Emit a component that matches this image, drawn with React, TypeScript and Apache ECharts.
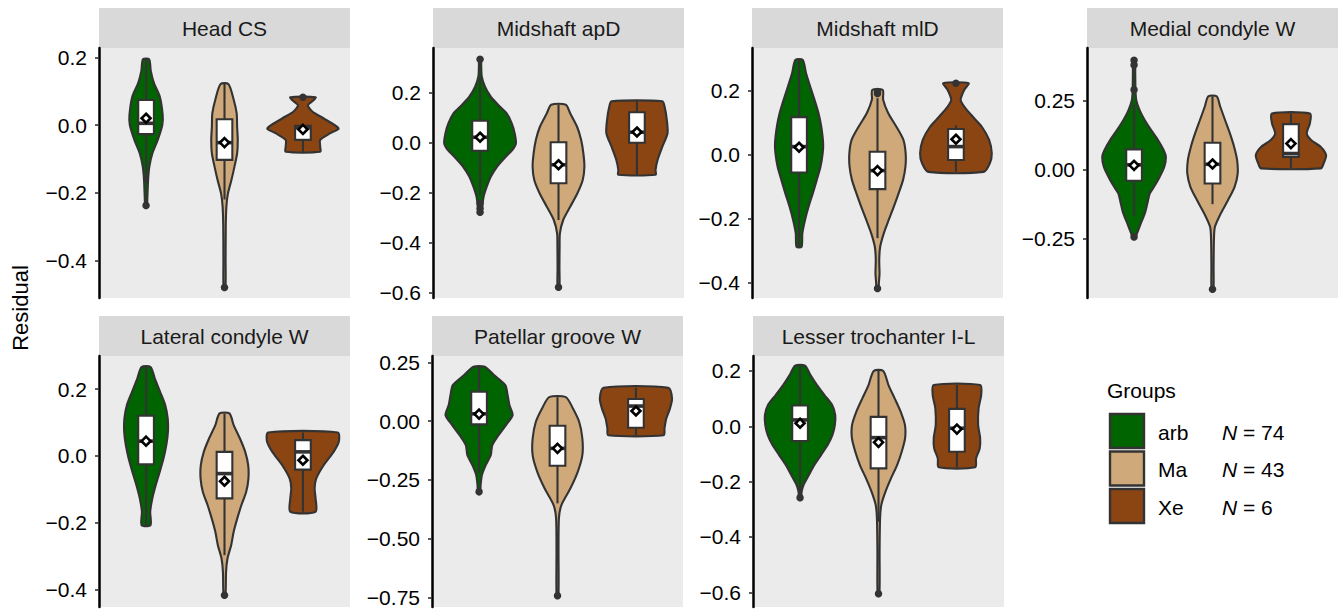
import React, { useEffect, useRef } from 'react';
import * as echarts from 'echarts';

// ---------- data ----------
const panelNames = ['Head CS', 'Midshaft apD', 'Midshaft mlD', 'Medial condyle W', 'Lateral condyle W', 'Patellar groove W', 'Lesser trochanter I-L'];
const groupNames = ['arb', 'Ma', 'Xe'];
const groupN = [74, 43, 6];
const yAxisTitle = 'Residual';
const legendTitle = 'Groups';

const yMin = [-0.511, -0.623, -0.449, -0.467, -0.452, -0.791, -0.653];
const yMax = [0.2275, 0.377, 0.332, 0.4415, 0.2987, 0.277, 0.254];
const yTicks = [
  [-0.4, -0.2, 0, 0.2],
  [-0.6, -0.4, -0.2, 0, 0.2],
  [-0.4, -0.2, 0, 0.2],
  [-0.25, 0, 0.25],
  [-0.4, -0.2, 0, 0.2],
  [-0.75, -0.5, -0.25, 0, 0.25],
  [-0.6, -0.4, -0.2, 0, 0.2],
];
const tickDecimals = [1, 1, 1, 2, 1, 2, 1];

// violin profiles: [residual, half-width in group units], top to bottom; order arb, Ma, Xe
const violinHeadCS = [
  [[0.194, 0.04], [0.16, 0.06], [0.123, 0.102], [0.084, 0.175], [0.029, 0.212], [0.0, 0.207], [-0.044, 0.149], [-0.084, 0.08], [-0.123, 0.042], [-0.162, 0.026], [-0.22, 0.016], [-0.238, 0.012]],
  [[0.121, 0.051], [0.074, 0.118], [0.035, 0.155], [-0.005, 0.161], [-0.044, 0.169], [-0.084, 0.161], [-0.123, 0.127], [-0.162, 0.089], [-0.202, 0.044], [-0.241, 0.024], [-0.3, 0.016], [-0.4, 0.014], [-0.48, 0.012]],
  [[0.082, 0.161], [0.07, 0.12], [0.058, 0.063], [0.039, 0.123], [0.02, 0.26], [-0.01, 0.455], [-0.024, 0.349], [-0.044, 0.22], [-0.064, 0.22], [-0.079, 0.22]],
];
const violinApD = [
  [[0.332, 0.012], [0.3, 0.015], [0.262, 0.022], [0.222, 0.063], [0.182, 0.137], [0.142, 0.254], [0.116, 0.339], [0.076, 0.403], [0.036, 0.441], [-0.004, 0.457], [-0.03, 0.413], [-0.058, 0.328], [-0.098, 0.216], [-0.138, 0.136], [-0.178, 0.085], [-0.218, 0.045], [-0.258, 0.028], [-0.284, 0.016]],
  [[0.15, 0.093], [0.116, 0.149], [0.062, 0.237], [0.01, 0.288], [-0.044, 0.317], [-0.098, 0.33], [-0.151, 0.309], [-0.204, 0.241], [-0.258, 0.149], [-0.311, 0.06], [-0.364, 0.018], [-0.417, 0.014], [-0.5, 0.012], [-0.58, 0.012]],
  [[0.164, 0.324], [0.142, 0.353], [0.089, 0.381], [0.036, 0.39], [-0.018, 0.324], [-0.071, 0.263], [-0.111, 0.237], [-0.13, 0.237]],
];
const violinMlD = [
  [[0.295, 0.047], [0.253, 0.089], [0.211, 0.143], [0.17, 0.197], [0.128, 0.248], [0.086, 0.283], [0.034, 0.307], [0.003, 0.301], [-0.039, 0.273], [-0.08, 0.226], [-0.122, 0.175], [-0.164, 0.121], [-0.205, 0.076], [-0.247, 0.042], [-0.289, 0.032]],
  [[0.201, 0.067], [0.17, 0.072], [0.128, 0.137], [0.086, 0.241], [0.045, 0.33], [0.003, 0.359], [-0.039, 0.356], [-0.08, 0.326], [-0.122, 0.269], [-0.164, 0.207], [-0.205, 0.143], [-0.247, 0.08], [-0.289, 0.034], [-0.33, 0.022], [-0.372, 0.026], [-0.4, 0.018], [-0.419, 0.012]],
  [[0.222, 0.161], [0.201, 0.105], [0.17, 0.06], [0.149, 0.105], [0.118, 0.212], [0.086, 0.33], [0.045, 0.423], [0.003, 0.457], [-0.028, 0.432], [-0.055, 0.353]],
];
const violinMedial = [
  [[0.397, 0.012], [0.35, 0.015], [0.29, 0.018], [0.252, 0.028], [0.215, 0.072], [0.179, 0.137], [0.143, 0.218], [0.106, 0.307], [0.07, 0.378], [0.046, 0.406], [0.009, 0.385], [-0.027, 0.326], [-0.063, 0.254], [-0.087, 0.201], [-0.124, 0.169], [-0.16, 0.137], [-0.196, 0.086], [-0.233, 0.036], [-0.245, 0.02]],
  [[0.266, 0.053], [0.228, 0.099], [0.179, 0.161], [0.131, 0.222], [0.082, 0.276], [0.034, 0.314], [-0.015, 0.321], [-0.063, 0.282], [-0.112, 0.197], [-0.16, 0.105], [-0.209, 0.03], [-0.257, 0.018], [-0.35, 0.014], [-0.435, 0.012]],
  [[0.203, 0.244], [0.167, 0.241], [0.131, 0.201], [0.106, 0.26], [0.082, 0.381], [0.052, 0.448], [0.022, 0.417], [0.004, 0.381]],
];
const violinLateral = [
  [[0.266, 0.057], [0.231, 0.112], [0.191, 0.18], [0.152, 0.244], [0.112, 0.276], [0.072, 0.279], [0.032, 0.258], [-0.008, 0.222], [-0.048, 0.174], [-0.088, 0.123], [-0.127, 0.08], [-0.167, 0.053], [-0.207, 0.057]],
  [[0.127, 0.063], [0.092, 0.117], [0.052, 0.197], [0.012, 0.264], [-0.028, 0.302], [-0.068, 0.305], [-0.108, 0.276], [-0.147, 0.216], [-0.187, 0.163], [-0.227, 0.117], [-0.267, 0.085], [-0.307, 0.038], [-0.347, 0.02], [-0.417, 0.012]],
  [[0.07, 0.444], [0.042, 0.457], [0.012, 0.391], [-0.028, 0.264], [-0.068, 0.169], [-0.097, 0.149], [-0.127, 0.161], [-0.167, 0.161]],
];
const violinPatellar = [
  [[0.231, 0.072], [0.196, 0.19], [0.153, 0.334], [0.111, 0.364], [0.068, 0.387], [0.026, 0.428], [-0.017, 0.343], [-0.06, 0.248], [-0.102, 0.169], [-0.145, 0.149], [-0.187, 0.085], [-0.23, 0.036], [-0.272, 0.02], [-0.301, 0.014]],
  [[0.102, 0.105], [0.054, 0.197], [-0.003, 0.276], [-0.074, 0.317], [-0.145, 0.317], [-0.216, 0.258], [-0.286, 0.165], [-0.357, 0.05], [-0.414, 0.018], [-0.55, 0.013], [-0.743, 0.012]],
  [[0.142, 0.413], [0.096, 0.46], [0.054, 0.434], [0.011, 0.387], [-0.031, 0.364], [-0.06, 0.353]],
];
const violinLesser = [
  [[0.219, 0.063], [0.185, 0.133], [0.149, 0.216], [0.113, 0.311], [0.077, 0.409], [0.041, 0.448], [0.005, 0.444], [-0.031, 0.413], [-0.067, 0.353], [-0.103, 0.269], [-0.139, 0.184], [-0.176, 0.112], [-0.212, 0.044], [-0.236, 0.02], [-0.258, 0.014]],
  [[0.2, 0.061], [0.149, 0.127], [0.101, 0.206], [0.053, 0.282], [0.005, 0.337], [-0.043, 0.339], [-0.092, 0.296], [-0.14, 0.237], [-0.188, 0.159], [-0.236, 0.089], [-0.284, 0.036], [-0.333, 0.02], [-0.45, 0.014], [-0.605, 0.012]],
  [[0.149, 0.296], [0.113, 0.309], [0.065, 0.276], [0.005, 0.27], [-0.043, 0.296], [-0.08, 0.29], [-0.116, 0.244], [-0.148, 0.232]],
];

// box stats: [lower whisker, Q1, median, Q3, upper whisker]
const boxHeadCS = [[-0.17, -0.027, 0.005, 0.074, 0.194], [-0.22, -0.103, -0.052, 0.017, 0.121], [-0.079, -0.044, -0.008, -0.002, -0.002]];
const boxApD = [[-0.21, -0.034, 0.02, 0.086, 0.26], [-0.311, -0.164, -0.09, 0.0, 0.15], [-0.13, -0.002, 0.04, 0.12, 0.164]];
const boxMlD = [[-0.289, -0.057, 0.024, 0.116, 0.295], [-0.262, -0.109, -0.051, 0.008, 0.175], [-0.055, -0.018, 0.024, 0.079, 0.09]];
const boxMedial = [[-0.17, -0.041, 0.017, 0.073, 0.24], [-0.126, -0.051, 0.019, 0.097, 0.266], [0.004, 0.046, 0.058, 0.165, 0.203]];
const boxLateral = [[-0.207, -0.025, 0.044, 0.12, 0.266], [-0.297, -0.127, -0.053, 0.012, 0.127], [-0.167, -0.041, 0.012, 0.047, 0.07]];
const boxPatellar = [[-0.22, -0.014, 0.031, 0.125, 0.231], [-0.35, -0.19, -0.116, -0.02, 0.102], [-0.06, -0.028, 0.064, 0.094, 0.142]];
const boxLesser = [[-0.245, -0.053, 0.023, 0.075, 0.219], [-0.345, -0.152, -0.041, 0.034, 0.2], [-0.148, -0.092, -0.007, 0.063, 0.149]];

// group means
const meanHeadCS = [0.02, -0.052, -0.013];
const meanApD = [0.02, -0.09, 0.041];
const meanMlD = [0.022, -0.051, 0.047];
const meanMedial = [0.015, 0.02, 0.094];
const meanLateral = [0.044, -0.076, -0.013];
const meanPatellar = [0.03, -0.116, 0.043];
const meanLesser = [0.011, -0.058, -0.01];

// outliers: [group (1..3), residual]
const outHeadCS = [[1, -0.238], [2, -0.48], [3, 0.082]];
const outApD = [[1, 0.332], [1, -0.245], [1, -0.265], [1, -0.28], [2, -0.58]];
const outMlD = [[2, 0.19], [2, 0.196], [2, -0.419], [3, 0.222]];
const outMedial = [[1, 0.397], [1, 0.38], [1, 0.29], [1, -0.245], [2, -0.435]];
const outLateral = [[2, -0.417]];
const outPatellar = [[1, -0.301], [2, -0.743]];
const outLesser = [[1, -0.258], [2, -0.605]];

const violins = [violinHeadCS, violinApD, violinMlD, violinMedial, violinLateral, violinPatellar, violinLesser];
const boxes = [boxHeadCS, boxApD, boxMlD, boxMedial, boxLateral, boxPatellar, boxLesser];
const means = [meanHeadCS, meanApD, meanMlD, meanMedial, meanLateral, meanPatellar, meanLesser];
const outliers = [outHeadCS, outApD, outMlD, outMedial, outLateral, outPatellar, outLesser];

// ---------- styles / layout ----------
const groupColors = ['#006400', '#CFA97A', '#8B4513'];
const FONT = '"Liberation Sans", Arial, Helvetica, sans-serif';
const INK = '#333333';
const LW = 2.1;
const panelLefts = [99, 433, 752, 1087, 99, 432, 753];
const panelTops = [48, 48, 48, 48, 356, 356, 356];
const panelHeights = [250, 250, 250, 250, 251, 251, 251];
const PANEL_W = 251;
const STRIP_H = 40;
const BOX_HALF = 0.1;

function fmt(v: number, d: number) {
  const a = Math.abs(v).toFixed(d);
  return (v < -1e-9 ? '\u2212' : '') + a;
}

function buildOption() {
  const grid: any[] = [];
  const xAxis: any[] = [];
  const yAxis: any[] = [];
  const series: any[] = [];
  const graphic: any[] = [];

  panelNames.forEach((name, p) => {
    grid.push({
      left: panelLefts[p], top: panelTops[p], width: PANEL_W, height: panelHeights[p],
      show: true, backgroundColor: '#EBEBEB', borderWidth: 0, containLabel: false,
    });
    xAxis.push({ type: 'value', gridIndex: p, min: 0.4, max: 3.6, show: false, splitLine: { show: false } });
    const dec = tickDecimals[p];
    yAxis.push({
      type: 'value', gridIndex: p, min: yMin[p], max: yMax[p],
      axisLine: { show: true, onZero: false, lineStyle: { color: '#000', width: 2.5 } },
      axisTick: { show: true, length: 4, lineStyle: { color: INK, width: 1.6 }, customValues: yTicks[p] },
      axisLabel: {
        customValues: yTicks[p], color: '#000', fontSize: 21, fontFamily: FONT, margin: 12,
        formatter: (v: number) => fmt(v, dec),
      },
      splitLine: { show: false },
    });

    const prof = violins[p];
    series.push({
      type: 'custom', xAxisIndex: p, yAxisIndex: p, z: 2, silent: true,
      data: groupNames.map((_, g) => [g + 1, 0]),
      encode: { x: 0, y: 1 },
      renderItem: (params: any, api: any) => {
        const g = params.dataIndex;
        const pr = prof[g];
        const cx = g + 1;
        const right = pr.map((pt: number[]) => api.coord([cx + pt[1], pt[0]]));
        const left = pr.slice().reverse().map((pt: number[]) => api.coord([cx - pt[1], pt[0]]));
        return {
          type: 'polygon',
          shape: { points: right.concat(left), smooth: 0.25 },
          style: { fill: groupColors[g], stroke: INK, lineWidth: LW, lineJoin: 'round' },
        };
      },
    });

    series.push({
      type: 'custom', xAxisIndex: p, yAxisIndex: p, z: 3, silent: true,
      data: boxes[p].map((b, g) => [g + 1, ...b]),
      encode: { x: 0, y: [1, 2, 3, 4, 5] },
      renderItem: (params: any, api: any) => {
        const x = api.value(0);
        const lo = api.value(1), q1 = api.value(2), med = api.value(3), q3 = api.value(4), hi = api.value(5);
        const pLo = api.coord([x, lo]);
        const pHi = api.coord([x, hi]);
        const tl = api.coord([x - BOX_HALF, q3]);
        const br = api.coord([x + BOX_HALF, q1]);
        const m1 = api.coord([x - BOX_HALF, med]);
        const m2 = api.coord([x + BOX_HALF, med]);
        return {
          type: 'group',
          children: [
            { type: 'line', shape: { x1: pLo[0], y1: pLo[1], x2: pHi[0], y2: pHi[1] }, style: { stroke: INK, lineWidth: LW } },
            { type: 'rect', shape: { x: tl[0], y: tl[1], width: br[0] - tl[0], height: br[1] - tl[1] }, style: { fill: '#FFFFFF', stroke: INK, lineWidth: LW } },
            { type: 'line', shape: { x1: m1[0], y1: m1[1], x2: m2[0], y2: m2[1] }, style: { stroke: INK, lineWidth: 3.6 } },
          ],
        };
      },
    });

    series.push({
      type: 'scatter', xAxisIndex: p, yAxisIndex: p, z: 4, silent: true,
      symbol: 'circle', symbolSize: 7.5,
      itemStyle: { color: INK, opacity: 1 },
      data: outliers[p],
    });

    series.push({
      type: 'scatter', xAxisIndex: p, yAxisIndex: p, z: 5, silent: true,
      symbol: 'diamond', symbolSize: 9,
      itemStyle: { color: '#FFFFFF', borderColor: '#000000', borderWidth: 2.6, opacity: 1 },
      data: means[p].map((m, g) => [g + 1, m]),
    });

    graphic.push({
      type: 'rect', silent: true,
      shape: { x: panelLefts[p], y: panelTops[p] - STRIP_H, width: PANEL_W, height: STRIP_H },
      style: { fill: '#D9D9D9' },
    });
    graphic.push({
      type: 'text', silent: true,
      x: panelLefts[p] + PANEL_W / 2, y: panelTops[p] - STRIP_H / 2,
      style: { text: name, fill: '#1A1A1A', fontSize: 21, fontFamily: FONT, textAlign: 'center', textVerticalAlign: 'middle' },
    });
  });

  graphic.push({
    type: 'text', silent: true, x: 20, y: 308, rotation: Math.PI / 2,
    style: { text: yAxisTitle, fill: '#000', fontSize: 22, fontFamily: FONT, textAlign: 'center', textVerticalAlign: 'middle' },
  });

  graphic.push({
    type: 'text', silent: true, x: 1107, y: 390,
    style: { text: legendTitle, fill: '#000', fontSize: 21, fontFamily: FONT, textAlign: 'left', textVerticalAlign: 'middle' },
  });
  groupNames.forEach((gname, g) => {
    const top = 413 + g * 37.5;
    graphic.push({
      type: 'rect', silent: true,
      shape: { x: 1110, y: top + 1, width: 34, height: 34 },
      style: { fill: groupColors[g], stroke: INK, lineWidth: 2.4 },
    });
    graphic.push({
      type: 'text', silent: true, x: 1158, y: top + 19,
      style: { text: gname, fill: '#000', fontSize: 21, fontFamily: FONT, textAlign: 'left', textVerticalAlign: 'middle' },
    });
    graphic.push({
      type: 'text', silent: true, x: 1222, y: top + 19,
      style: {
        text: '{i|N} = ' + groupN[g], fill: '#000', fontSize: 21, fontFamily: FONT, textAlign: 'left', textVerticalAlign: 'middle',
        rich: { i: { fontStyle: 'italic', fontSize: 21, fontFamily: FONT, fill: '#000' } },
      },
    });
  });

  return {
    animation: false,
    backgroundColor: '#FFFFFF',
    grid, xAxis, yAxis, series, graphic,
  };
}

export default function App() {
  const ref = useRef<HTMLDivElement>(null);
  useEffect(() => {
    if (!ref.current) return;
    const chart = echarts.init(ref.current, null, { renderer: 'svg' });
    chart.setOption(buildOption() as any);
    return () => chart.dispose();
  }, []);
  return <div ref={ref} style={{ position: 'absolute', left: 0, top: 0, width: 1341, height: 609, background: '#fff' }} />;
}
